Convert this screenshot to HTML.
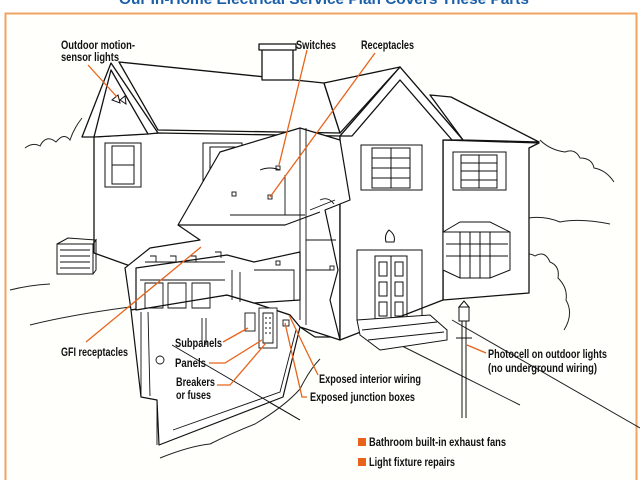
<!DOCTYPE html>
<html><head><meta charset="utf-8"><style>
html,body{margin:0;padding:0;background:#fff}
svg{display:block}
text{font-family:"Liberation Sans",sans-serif;font-weight:bold;font-size:12px;fill:#111}
</style></head><body>
<svg width="640" height="480" viewBox="0 0 640 480" xmlns="http://www.w3.org/2000/svg">
<rect width="640" height="480" fill="#fff"/>
<text x="119" y="4" textLength="410" lengthAdjust="spacingAndGlyphs" style="font-size:15px;fill:#1a5fa8">Our In-Home Electrical Service Plan Covers These Parts</text>
<rect x="5.5" y="13.5" width="631" height="480" fill="#fffffb" stroke="#f0a462" stroke-width="2"/>
<g fill="none" stroke="#222" stroke-width="1">
<path d="M25,148 q8,-6 15,-2 q6,-12 16,-4 q8,-10 14,-2 q4,-12 12,-22"/>
<path d="M540,140 q10,10 25,12 q10,-4 15,6 q12,0 14,10 q12,2 20,14"/>
<path d="M520,220 q20,-6 40,2 q20,-4 50,2"/>
<path d="M520,262 q5,-12 15,-6 q10,-6 15,6 q10,4 8,16 q10,10 8,22 q8,14 -2,30"/>
<path d="M10,290 q20,-5 40,-6"/>
<path d="M105,252 q10,-8 20,0"/>
<path d="M30,325 q40,-10 100,-18"/>
<path d="M170,345 L300,420"/>
<path d="M390,340 L460,375 L520,405"/>
<path d="M452,320 L640,428"/>
<path d="M160,458 q30,-12 50,-14 q20,-10 45,-20 q30,-18 45,-35 q10,-20 20,-30"/>
</g>
<g fill="#fff" stroke="#111" stroke-width="1.3" stroke-linejoin="round">
<polygon points="443,140 539,143 529,148 529,293 443,300"/>
<polygon points="430,95 451,97 539,142 463,140"/>
<polygon points="94,137 158,133 340,136 340,337 315,337 300,327 94,253"/>
<polygon points="119,62 324,83 340,133 158,130"/>
<polygon points="111,63 82,137 94,137 111,96 148,134 158,133"/>
<polygon points="111,70 94,137 148,134"/>
<rect x="262" y="47" width="31" height="33"/>
<rect x="259" y="44" width="37" height="6"/>
<polygon points="340,136 400,67 463,140 443,140 443,300 340,340"/>
<polygon points="400,67 340,136 352,136 400,80 452,140 463,140"/>
<polygon points="324,83 400,67 340,133"/>
</g>
<g fill="none" stroke="#111" stroke-width="1">
<rect x="105" y="143" width="36" height="44"/><rect x="112" y="146" width="22" height="38"/><line x1="112" y1="165" x2="134" y2="165"/>
<rect x="203" y="143" width="39" height="50"/><rect x="210" y="147" width="25" height="42"/>
<rect x="361" y="145" width="61" height="45"/><rect x="372" y="148" width="38" height="40"/><path d="M372,168H410M391,148V188M372,158H410M372,178H410"/>
<rect x="453" y="152" width="53" height="38"/><rect x="461" y="155" width="36" height="33"/><path d="M461,171H497M479,155V188M461,163H497M461,180H497"/>
<rect x="357" y="250" width="65" height="70"/><rect x="375" y="256" width="32" height="64"/><path d="M391,256V320M379,262h8v14h-8zM395,262h8v14h-8zM379,282h8v14h-8zM395,282h8v14h-8zM379,302h8v14h-8zM395,302h8v14h-8z"/>
<path d="M389,230 q-5,5 -3,12 h8 q2,-7 -5,-12z"/>
<path fill="#fff" d="M357,320 L430,315 L447,330 L447,340 L380,350 L360,335Z M362,330 L437,322 M368,340 L444,332"/>
<path fill="#fff" d="M443,232 L460,222 L490,222 L510,232 L510,270 L490,278 L460,278 L443,270Z M460,232 V278 M490,232 V278 M443,232 H510 M446,244H508M446,256H508M470,232V278M480,232V278"/>
<rect x="57" y="244" width="36" height="30" fill="#fff"/><path d="M57,244 L68,238 L96,240 L93,244 M93,244 L96,240 L96,270 L93,274 M60,250H90M60,256H90M60,262H90M60,268H90"/>
<path d="M112,100 l6,-5 l2,8z M120,100 l5,-4 l1,8z"/>
<path d="M462,318 V418 M466,318 V418"/>
<rect x="459" y="307" width="10" height="14" fill="#fff"/><path d="M464,301 l-5,6 h10z"/>
<path d="M456,338 H472"/>
</g>
<g fill="#fff" stroke="#111" stroke-width="1.2" stroke-linejoin="round">
<polygon points="220,152 300,128 340,140 350,200 325,210 338,270 330,300 340,340 300,327 290,315 254,303 227,295 131,310 125,268 150,248 200,240 178,225"/>
<path d="M178,225 L285,225 L320,212" fill="none"/>
<polygon points="131,310 141,397 157,400 159,445 283,397 300,327 290,315 254,303 227,295"/>
<polygon points="136,268 227,255 254,262 300,252 300,300 254,303 227,295 136,310" />
</g>
<g fill="none" stroke="#111" stroke-width="0.9">
<path d="M141,397 L141,312 M148,312 L150,396 M157,400 L157,445 M173,430 L280,392 L296,330"/>
<path d="M140,280 H225 M145,283 h18 v25 h-18z M168,283 h18 v25 h-18z M192,283 h18 v25 h-18z M232,270 v30 M240,272 v30 M254,270 h40 v30"/>
<path d="M145,262 h80 M150,256 h6 v6 M170,256 h6 v6 M190,256 h6 v6 M215,252 h6 v6"/>
<path d="M202,318 V345 M206,318 V345 M172,345 L300,420"/>
<path d="M300,128 V320 M306,128 V325 M230,215 H305 M285,175 V215"/>
<path d="M260,170 q10,-4 20,0 M310,210 l25,-10 M320,200 q8,-4 14,4"/>
<path d="M306,240 h30 M306,270 h25"/>
<rect x="245" y="313" width="10" height="18"/>
<rect x="259" y="308" width="18" height="40" fill="#fff"/><path d="M263,313h10v30h-10zM265,318h2M269,318h2M265,323h2M269,323h2M265,328h2M269,328h2M265,333h2M269,333h2"/>
<rect x="283" y="320" width="6" height="6"/>
<circle cx="160" cy="360" r="4"/>
<rect x="276" y="166" width="4" height="4"/><rect x="268" y="195" width="4" height="4"/><rect x="232" y="192" width="4" height="4"/><rect x="330" y="266" width="4" height="4"/><rect x="276" y="261" width="4" height="4"/>
</g>
<g stroke="#e8631a" stroke-width="1.3" fill="none">
<path d="M88,65 L117,97"/>
<path d="M307,50 L279,165"/>
<path d="M375,53 L270,197"/>
<path d="M86,342 L201,247"/>
<path d="M223,342 L248,328"/>
<path d="M209,363 H225 L262,340"/>
<path d="M217,385 H230 L266,343"/>
<path d="M318,375 L289,315"/>
<path d="M307,397 H302 L285,323"/>
<path d="M486,353 L467,345"/>
</g>
<text x="61" y="49" textLength="74" lengthAdjust="spacingAndGlyphs">Outdoor motion-</text>
<text x="61" y="61" textLength="58" lengthAdjust="spacingAndGlyphs">sensor lights</text>
<text x="296" y="49" textLength="40" lengthAdjust="spacingAndGlyphs">Switches</text>
<text x="361" y="49" textLength="53" lengthAdjust="spacingAndGlyphs">Receptacles</text>
<text x="61" y="356" textLength="67" lengthAdjust="spacingAndGlyphs">GFI receptacles</text>
<text x="175" y="347" textLength="47" lengthAdjust="spacingAndGlyphs">Subpanels</text>
<text x="175" y="367" textLength="31" lengthAdjust="spacingAndGlyphs">Panels</text>
<text x="176" y="386" textLength="39" lengthAdjust="spacingAndGlyphs">Breakers</text>
<text x="176" y="399" textLength="35" lengthAdjust="spacingAndGlyphs">or fuses</text>
<text x="319" y="383" textLength="102" lengthAdjust="spacingAndGlyphs">Exposed interior wiring</text>
<text x="310" y="401" textLength="105" lengthAdjust="spacingAndGlyphs">Exposed junction boxes</text>
<text x="488" y="358" textLength="119" lengthAdjust="spacingAndGlyphs">Photocell on outdoor lights</text>
<text x="488" y="372" textLength="109" lengthAdjust="spacingAndGlyphs">(no underground wiring)</text>
<rect x="358" y="438" width="8" height="8" fill="#e8631a"/>
<text x="369" y="446" textLength="137" lengthAdjust="spacingAndGlyphs">Bathroom built-in exhaust fans</text>
<rect x="358" y="458" width="8" height="8" fill="#e8631a"/>
<text x="369" y="466" textLength="86" lengthAdjust="spacingAndGlyphs">Light fixture repairs</text>
</svg>
</body></html>
